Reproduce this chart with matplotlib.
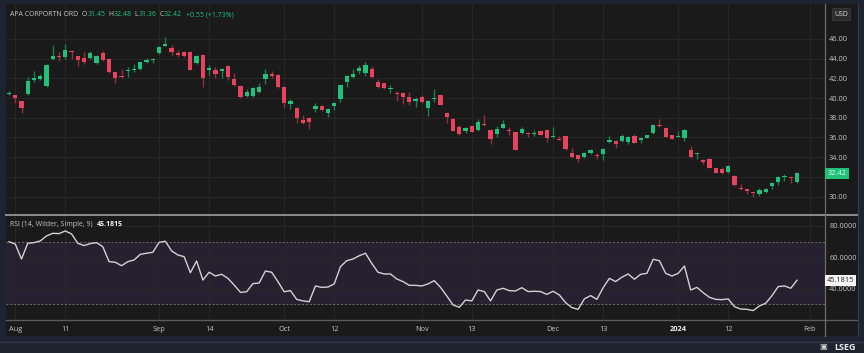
import matplotlib.pyplot as plt
from matplotlib.patches import Rectangle
from matplotlib.lines import Line2D
import pandas as pd

# trading calendar (NYSE holidays removed)
holidays = ['2023-09-04', '2023-11-23', '2023-12-25', '2024-01-01', '2024-01-15']
days = pd.bdate_range('2023-07-31', '2024-02-02')
days = days[~days.isin(pd.to_datetime(holidays))]
dates = days[days <= '2024-01-30']

opens = [40.45, 40.3, 39.7, 40.4, 41.85, 41.9, 41.2, 44.0, 44.25, 44.15,
         44.8, 44.25, 44.05, 44.07, 43.55, 44.6, 44.0, 42.6, 42.25, 42.72,
         42.85, 42.92, 43.66, 43.87, 44.58, 45.3, 45.05, 44.55, 44.7, 44.68,
         43.53, 44.38, 42.85, 42.82, 42.72, 43.29, 41.97, 41.23, 40.21, 40.24,
         40.59, 41.91, 42.45, 42.35, 41.13, 39.43, 39.03, 37.78, 38.0, 38.9,
         39.2, 38.49, 39.2, 39.94, 41.6, 42.11, 42.78, 42.58, 42.95, 41.63,
         41.5, 40.92, 40.52, 40.55, 40.11, 39.7, 40.11, 39.03, 39.9, 40.28,
         38.52, 37.91, 37.04, 36.66, 37.17, 36.76, 37.37, 36.76, 36.32, 37.0,
         36.76, 36.56, 36.43, 36.49, 36.32, 36.63, 36.76, 36.02, 35.88, 36.12,
         34.4, 34.19, 34.02, 34.43, 34.26, 34.29, 35.51, 35.64, 35.61, 35.51,
         36.12, 35.75, 35.95, 36.43, 37.24, 37.0, 36.25, 36.05, 35.98, 34.73,
         34.3, 33.72, 33.85, 32.87, 32.8, 32.5, 32.09, 30.87, 30.74, 30.47,
         30.26, 30.47, 31.04, 31.45, 32.02, 32.02, 31.45]
highs = [40.7, 40.35, 39.75, 42.1, 42.7, 42.4, 43.5, 45.4, 44.7, 45.5,
         44.85, 44.3, 44.65, 44.75, 44.35, 44.8, 44.1, 42.65, 42.95, 43.2,
         43.5, 43.7, 44.1, 44.05, 45.25, 46.23, 45.4, 44.9, 44.75, 44.75,
         44.35, 44.45, 43.4, 43.2, 43.05, 43.35, 42.5, 41.35, 40.95, 41.1,
         41.56, 42.95, 42.7, 42.45, 41.2, 39.9, 39.1, 38.28, 38.05, 39.45,
         39.3, 39.0, 39.6, 41.35, 42.3, 42.93, 43.4, 43.63, 43.3, 41.9,
         41.55, 41.33, 40.75, 40.6, 40.65, 40.12, 40.3, 39.8, 40.92, 40.3,
         38.6, 38.0, 37.3, 37.1, 37.2, 37.85, 38.28, 36.85, 37.2, 37.75,
         37.1, 36.6, 37.1, 36.55, 36.75, 36.7, 36.85, 37.1, 36.15, 36.15,
         34.9, 34.25, 34.55, 34.8, 34.45, 34.9, 36.15, 35.75, 36.35, 36.1,
         36.32, 36.0, 36.3, 37.4, 37.85, 37.05, 36.3, 36.63, 36.85, 35.14,
         34.45, 33.8, 33.9, 32.95, 33.0, 33.25, 32.15, 31.28, 30.8, 30.5,
         30.85, 30.9, 31.45, 32.1, 32.25, 32.1, 32.48]
lows = [40.3, 39.47, 38.5, 40.35, 41.65, 41.85, 41.15, 43.9, 43.8, 44.0,
        44.0, 43.26, 43.5, 43.95, 43.45, 43.8, 42.55, 41.5, 42.0, 42.17,
        42.6, 42.8, 43.55, 43.55, 44.5, 45.25, 44.4, 44.15, 44.2, 42.8,
        43.45, 41.16, 42.35, 42.07, 42.0, 41.85, 41.25, 40.05, 40.15, 40.15,
        40.5, 41.43, 42.0, 41.0, 39.07, 38.9, 37.44, 37.35, 36.86, 38.6,
        38.7, 38.05, 38.8, 39.6, 41.1, 42.0, 42.45, 42.2, 42.05, 41.05,
        40.95, 40.49, 39.74, 39.4, 39.3, 39.1, 39.5, 38.18, 39.6, 39.25,
        37.5, 36.65, 36.25, 36.5, 36.55, 36.7, 37.2, 35.34, 36.0, 36.95,
        36.22, 34.7, 36.4, 36.0, 36.1, 36.2, 35.57, 35.95, 35.7, 34.75,
        33.95, 33.54, 33.95, 34.35, 33.79, 33.72, 35.45, 34.96, 35.55, 35.35,
        35.4, 35.45, 35.9, 36.35, 37.1, 36.0, 35.8, 36.0, 35.68, 33.9,
        33.85, 33.3, 32.85, 32.35, 32.3, 32.4, 31.1, 30.7, 30.23, 29.93,
        30.1, 30.35, 30.8, 31.2, 31.6, 31.41, 31.36]
closes = [40.5, 40.05, 39.0, 41.7, 42.05, 42.2, 43.4, 44.25, 44.15, 44.9,
          44.7, 43.85, 43.65, 44.6, 44.25, 43.9, 42.6, 42.05, 42.1, 42.82,
          42.95, 43.63, 43.9, 44.0, 45.16, 45.5, 44.68, 44.4, 44.27, 42.88,
          44.27, 42.07, 43.06, 42.42, 42.98, 42.17, 41.33, 40.14, 40.62, 41.02,
          41.1, 42.42, 42.24, 41.1, 39.53, 39.7, 38.0, 37.44, 37.57, 39.2,
          38.8, 38.93, 39.53, 41.3, 42.21, 42.45, 43.03, 43.36, 42.14, 41.16,
          41.0, 41.06, 40.42, 40.11, 39.64, 39.88, 39.64, 39.7, 40.04, 39.3,
          38.05, 36.7, 36.32, 36.93, 36.59, 37.57, 37.27, 35.81, 36.86, 37.37,
          36.63, 34.73, 36.9, 36.32, 36.46, 36.25, 35.98, 36.18, 35.75, 34.8,
          34.02, 33.82, 34.46, 34.7, 34.12, 34.83, 35.75, 35.31, 36.12, 36.02,
          35.47, 35.95, 36.22, 37.3, 37.14, 36.05, 35.85, 36.15, 36.76, 33.99,
          34.4, 33.54, 32.93, 32.43, 32.36, 33.11, 31.18, 30.74, 30.6, 30.33,
          30.63, 30.8, 31.35, 32.02, 32.12, 31.86, 32.42]
rsi = [69.9, 68.4, 58.8, 68.9, 69.3, 70.4, 73.6, 75.3, 75.1, 76.8,
       74.9, 68.9, 67.4, 68.7, 69.3, 66.7, 57.1, 56.7, 54.5, 57.1,
       58.2, 61.8, 62.5, 63.1, 69.5, 70.2, 64.0, 61.4, 60.3, 50.0,
       57.5, 45.3, 50.3, 47.9, 49.0, 46.4, 42.1, 37.4, 37.8, 43.0,
       43.4, 51.1, 50.3, 44.3, 37.8, 38.5, 32.9, 31.9, 31.4, 41.5,
       40.6, 40.8, 42.8, 53.9, 57.7, 58.8, 60.9, 62.5, 56.0, 50.3,
       49.2, 49.2, 46.0, 44.3, 41.9, 41.9, 41.5, 42.8, 44.9, 40.6,
       35.1, 29.3, 27.8, 32.5, 31.9, 38.9, 37.9, 31.9, 38.9, 40.0,
       38.5, 38.3, 40.4, 37.9, 38.1, 37.9, 36.1, 38.1, 35.7, 30.8,
       27.6, 26.5, 33.2, 35.3, 32.9, 40.4, 46.4, 44.3, 47.1, 49.2,
       45.8, 49.0, 49.6, 58.6, 57.7, 49.6, 47.9, 49.6, 54.3, 38.9,
       40.6, 37.2, 34.2, 32.9, 32.7, 33.2, 28.2, 26.7, 26.5, 25.7,
       28.7, 30.4, 35.3, 41.1, 41.5, 40.0, 45.18]

tick_dates = ['2023-08-01', '2023-08-11', '2023-09-01', '2023-09-14', '2023-10-02', '2023-10-12',
              '2023-11-01', '2023-11-13', '2023-12-01', '2023-12-13', '2024-01-02', '2024-01-12',
              '2024-02-01']
tick_labels = ['Aug', '11', 'Sep', '14', 'Oct', '12', 'Nov', '13', 'Dec', '13', '2024', '12', 'Feb']
price_ticks = [30, 32, 34, 36, 38, 40, 42, 44, 46]
rsi_ticks = [40, 60, 80]

tick_pos = [days.get_loc(pd.Timestamp(d)) for d in tick_dates]
x = list(range(len(dates)))

BG = '#1a1a1a'
FRAME = '#1d2430'
GREEN = '#22c07a'
RED = '#e8435e'
GWICK = '#1b7e52'
RWICK = '#93303f'
GRID = '#272727'
TXT = '#c4c4c4'

W, H = 864, 353
plt.rcParams['font.family'] = ['Open Sans', 'DejaVu Sans']
fig = plt.figure(figsize=(W / 100, H / 100), dpi=100, facecolor=FRAME)


def fx(px):
    return px / W


def fy(py):
    return 1 - py / H


# main panel background (chart + axes area)
fig.add_artist(Rectangle((fx(6), fy(336)), fx(852), 332 / H, transform=fig.transFigure,
                         facecolor=BG, edgecolor='none', zorder=0))

ax_p = fig.add_axes([fx(6), fy(214), fx(819), 210 / H])
ax_r = fig.add_axes([fx(6), fy(320), fx(819), 104 / H])

xlim = ((6 - 9) / 6.254, (825 - 9) / 6.254)
for ax in (ax_p, ax_r):
    ax.set_facecolor(BG)
    ax.set_xlim(*xlim)
    for s in ax.spines.values():
        s.set_visible(False)
    ax.set_xticks(tick_pos)
    ax.grid(True, color=GRID, lw=0.7)
    ax.set_axisbelow(True)
    ax.yaxis.tick_right()
    ax.tick_params(length=0, colors=TXT, labelsize=5.3, pad=3)

# candles
body_lo = [min(o, c) for o, c in zip(opens, closes)]
body_h = [max(abs(c - o), 0.04) for o, c in zip(opens, closes)]
up = [c >= o for o, c in zip(opens, closes)]
ax_p.vlines(x, lows, highs, colors=[GWICK if u else RWICK for u in up], lw=1.0, zorder=2)
ax_p.bar(x, body_h, bottom=body_lo, width=0.68, color=[GREEN if u else RED for u in up],
         edgecolor='none', zorder=3)
ax_p.set_ylim(28.23, 49.55)
ax_p.set_yticks(price_ticks)
ax_p.set_yticklabels(['' if v == 32 else f'{v:.2f}' for v in price_ticks])
ax_p.set_xticklabels([])

# RSI
ax_r.axhspan(30, 70, color='#262030', zorder=0.5)
ax_r.axhline(70, color='#6e6e6e', lw=0.7, ls=(0, (2, 2)))
ax_r.axhline(30, color='#6e6e6e', lw=0.7, ls=(0, (2, 2)))
ax_r.plot(x, rsi, color='#d2d2d2', lw=1.0, zorder=3)
ax_r.set_ylim(19.65, 86.4)
ax_r.set_yticks(rsi_ticks)
ax_r.set_yticklabels([f'{v:.4f}' for v in rsi_ticks])
ax_r.set_xticklabels(tick_labels)
ax_r.tick_params(axis='x', pad=4)
for lab in ax_r.get_xticklabels():
    if lab.get_text() == '2024':
        lab.set_fontweight('bold')
        lab.set_color('#eeeeee')


# frame lines
def hline(py, x0, x1, c, lw):
    fig.add_artist(Line2D([fx(x0), fx(x1)], [fy(py), fy(py)], color=c, lw=lw, transform=fig.transFigure))


def vline(px, y0, y1, c, lw):
    fig.add_artist(Line2D([fx(px), fx(px)], [fy(y0), fy(y1)], color=c, lw=lw, transform=fig.transFigure))


hline(214.8, 6, 857, '#8c8c8c', 1.4)
hline(320.3, 6, 857, '#5c5c5c', 1.0)
vline(825, 4, 336, '#6c6c6c', 0.9)
vline(857.5, 4, 336, '#3c3c3c', 0.8)
hline(341.5, 0, 864, '#2f3a48', 1.0)

# header, laid out piece by piece
renderer = fig.canvas.get_renderer()
header = [('APA CORPORTN ORD', TXT, 4), ('O', TXT, 0), ('31.45', GREEN, 3), ('H', TXT, 0),
          ('32.48', GREEN, 3), ('L', TXT, 0), ('31.36', GREEN, 3), ('C', TXT, 0),
          ('32.42', GREEN, 4), ('+0.55 (+1.73%)', GREEN, 0)]
cur = 10
for s, c, gap in header:
    t = fig.text(fx(cur), fy(15), s, color=c, fontsize=5.0, va='center', ha='left')
    cur = t.get_window_extent(renderer).x1 + gap

fig.text(fx(841), fy(14), 'USD', color='#d8d8d8', fontsize=5.0, va='center', ha='center',
         bbox=dict(boxstyle='square,pad=0.35', facecolor='#2c2c2c', edgecolor='#3a3a3a', lw=0.6))

t = fig.text(fx(10), fy(225), 'RSI (14, Wilder, Simple, 9)', color=TXT, fontsize=5.0, va='center')
fig.text(fx(t.get_window_extent(renderer).x1 + 4), fy(225), '45.1815', color='#f2f2f2',
         fontsize=5.0, va='center', fontweight='bold')

# last value markers
fig.text(fx(837), fy(173.5), '32.42', color='#dfffee', fontsize=5.3, va='center', ha='center',
         bbox=dict(boxstyle='square,pad=0.3', facecolor=GREEN, edgecolor='none'))
fig.text(fx(840.5), fy(280.5), '45.1815', color='#222222', fontsize=5.3, va='center', ha='center',
         bbox=dict(boxstyle='square,pad=0.3', facecolor='#f4f4f4', edgecolor='none'))

# logo
fig.text(fx(823), fy(348), '\u25a3', color='#d0d0d0', fontsize=6, va='center', ha='center')
fig.text(fx(834), fy(348), 'LSEG', color='#e8e8e8', fontsize=6.5, va='center', ha='left',
         fontweight='bold')

fig.savefig('out.png', dpi=100, facecolor=FRAME)
